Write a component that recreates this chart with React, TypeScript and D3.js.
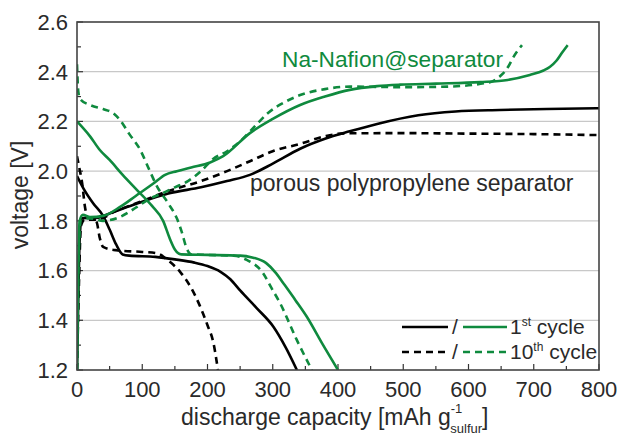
import React from "react";
import * as d3 from "d3";

const width = 618;
const height = 435;
const margin = { top: 22, right: 19, bottom: 65, left: 77 };
const green = "#0f8a3e";

// tick values
const xTicks = [0, 100, 200, 300, 400, 500, 600, 700, 800];
const yTicks = [1.2, 1.4, 1.6, 1.8, 2.0, 2.2, 2.4, 2.6];
const gridLines = [1.4, 1.6, 1.8, 2.0, 2.2, 2.4];

// [capacity, voltage] pairs
const ppDischarge1 = [[0, 1.98], [10, 1.93], [25, 1.87], [40, 1.82], [50, 1.765], [60, 1.705], [70, 1.665], [80, 1.66], [120, 1.655], [150, 1.645], [180, 1.632], [200, 1.618], [220, 1.595], [235, 1.565], [250, 1.52], [275, 1.45], [301, 1.374], [320, 1.29], [337, 1.2]];
const ppDischarge10 = [[0, 2.06], [3, 2.02], [8, 1.95], [12, 1.86], [16, 1.815], [25, 1.805], [30, 1.795], [35, 1.73], [40, 1.695], [60, 1.682], [100, 1.675], [122, 1.67], [140, 1.64], [158, 1.595], [175, 1.53], [188, 1.46], [200, 1.38], [209, 1.31], [216, 1.2]];
const ppCharge1 = [[0, 1.2], [2, 1.5], [4, 1.72], [7, 1.81], [15, 1.812], [30, 1.812], [50, 1.83], [92, 1.87], [140, 1.91], [190, 1.935], [230, 1.96], [265, 1.985], [300, 2.03], [342, 2.09], [380, 2.13], [418, 2.16], [460, 2.19], [523, 2.225], [580, 2.24], [648, 2.246], [720, 2.25], [800, 2.253]];
const ppCharge10 = [[0, 1.2], [3, 1.55], [6, 1.78], [12, 1.805], [30, 1.805], [60, 1.84], [100, 1.88], [140, 1.92], [190, 1.96], [230, 2.0], [265, 2.04], [300, 2.08], [342, 2.11], [380, 2.14], [410, 2.152], [500, 2.153], [600, 2.151], [700, 2.149], [800, 2.145]];
const nfDischarge1 = [[0, 2.2], [20, 2.14], [35, 2.085], [50, 2.045], [70, 1.985], [92, 1.924], [115, 1.86], [132, 1.8], [142, 1.73], [150, 1.685], [160, 1.665], [200, 1.663], [250, 1.66], [270, 1.652], [290, 1.63], [305, 1.59], [316, 1.55], [335, 1.48], [352, 1.415], [375, 1.31], [400, 1.2]];
const nfDischarge10 = [[0, 2.43], [2, 2.32], [5, 2.29], [20, 2.266], [40, 2.25], [55, 2.234], [66, 2.205], [80, 2.15], [97, 2.085], [110, 2.01], [123, 1.937], [140, 1.87], [153, 1.81], [160, 1.76], [168, 1.69], [175, 1.665], [200, 1.663], [240, 1.66], [260, 1.643], [285, 1.59], [298, 1.53], [311, 1.47], [337, 1.32], [360, 1.2]];
const nfCharge1 = [[0, 1.2], [2, 1.6], [4, 1.8], [9, 1.824], [20, 1.815], [40, 1.82], [66, 1.856], [90, 1.9], [117, 1.95], [135, 1.985], [153, 2.0], [175, 2.015], [204, 2.035], [224, 2.06], [265, 2.153], [300, 2.21], [342, 2.266], [380, 2.3], [418, 2.327], [460, 2.342], [495, 2.348], [550, 2.352], [618, 2.358], [660, 2.367], [694, 2.387], [715, 2.405], [725, 2.42], [735, 2.445], [743, 2.475], [752, 2.507]];
const nfCharge10 = [[0, 1.2], [3, 1.7], [6, 1.805], [20, 1.81], [40, 1.8], [66, 1.816], [92, 1.856], [112, 1.89], [132, 1.912], [150, 1.935], [170, 1.96], [190, 2.0], [209, 2.05], [230, 2.08], [250, 2.12], [276, 2.19], [291, 2.23], [320, 2.28], [342, 2.306], [380, 2.33], [418, 2.34], [500, 2.338], [567, 2.34], [633, 2.358], [645, 2.375], [653, 2.393], [662, 2.425], [668, 2.455], [682, 2.507]];

const series = [
  { data: ppDischarge1, color: "#000", dashed: false },
  { data: ppDischarge10, color: "#000", dashed: true },
  { data: ppCharge1, color: "#000", dashed: false },
  { data: ppCharge10, color: "#000", dashed: true },
  { data: nfDischarge1, color: green, dashed: false },
  { data: nfDischarge10, color: green, dashed: true },
  { data: nfCharge1, color: green, dashed: false },
  { data: nfCharge10, color: green, dashed: true },
];

const x = d3.scaleLinear().domain([0, 800]).range([margin.left, width - margin.right]);
const y = d3.scaleLinear().domain([1.2, 2.6]).range([height - margin.bottom, margin.top]);

const line = d3
  .line<number[]>()
  .x(d => x(d[0]))
  .y(d => y(d[1]))
  .curve(d3.curveMonotoneX);

const font = "'Liberation Sans', Arial, sans-serif";
const textColor = "#2a2a2a";

export default function App() {
  const x0 = x(0), x1 = x(800), y0 = y(1.2), y1 = y(2.6);
  const xMinor = d3.range(0, 801, 50);
  const yMinor = d3.range(12, 27, 1).map(v => v / 10);
  return (
    <svg width={width} height={height} style={{ position: "absolute", left: 0, top: 0, background: "#fff" }} fontFamily={font}>
      <defs>
        <clipPath id="plot">
          <rect x={x0} y={y1} width={x1 - x0} height={y0 - y1} />
        </clipPath>
      </defs>

      {gridLines.map(v => (
        <line key={v} x1={x0} x2={x1} y1={y(v)} y2={y(v)} stroke="#c8c8c8" strokeWidth={1.2} />
      ))}

      {/* ticks */}
      {xMinor.map(v => (
        <line key={"xt" + v} x1={x(v)} x2={x(v)} y1={y0} y2={y0 - (v % 100 === 0 ? 6 : 4)} stroke="#333" strokeWidth={1.2} />
      ))}
      {yMinor.map(v => (
        <line key={"yt" + v} x1={x0} x2={x0 + (Math.round(v * 10) % 2 === 0 ? 6 : 4)} y1={y(v)} y2={y(v)} stroke="#333" strokeWidth={1.2} />
      ))}

      <g clipPath="url(#plot)">
        {series.map((s, i) => (
          <path key={i} d={line(s.data) || ""} fill="none" stroke={s.color} strokeWidth={2.6}
            strokeDasharray={s.dashed ? "7,5" : undefined} />
        ))}
      </g>

      <rect x={x0} y={y1} width={x1 - x0} height={y0 - y1} fill="none" stroke="#444" strokeWidth={1.6} />

      {xTicks.map(v => (
        <text key={"xl" + v} x={x(v)} y={397} textAnchor="middle" fontSize={22} fill={textColor}>{v}</text>
      ))}
      {yTicks.map(v => (
        <text key={"yl" + v} x={68} y={y(v)} dy="0.36em" textAnchor="end" fontSize={22} fill={textColor}>{v.toFixed(1)}</text>
      ))}

      <text transform="translate(28,195) rotate(-90)" textAnchor="middle" fontSize={23} fill={textColor}>voltage [V]</text>

      <text x={181} y={425} fontSize={23} fill={textColor}>
        discharge capacity [mAh g
        <tspan fontSize={13} dy={-12}>-1</tspan>
        <tspan fontSize={13} dx={-12} dy={20}>sulfur</tspan>
        <tspan fontSize={23} dy={-8}>]</tspan>
      </text>

      <text x={282} y={67} fontSize={22.7} fill={green}>Na-Nafion@separator</text>
      <text x={250} y={191} fontSize={23} fill={textColor}>porous polypropylene separator</text>

      {/* legend */}
      <g fontSize={21} fill={textColor}>
        <line x1={402} x2={448} y1={327} y2={327} stroke="#000" strokeWidth={2.6} />
        <text x={452} y={334}>/</text>
        <line x1={463} x2={507} y1={327} y2={327} stroke={green} strokeWidth={2.6} />
        <text x={510} y={334}>1<tspan fontSize={12} dy={-8}>st</tspan><tspan dy={8}> cycle</tspan></text>

        <line x1={402} x2={448} y1={352} y2={352} stroke="#000" strokeWidth={2.6} strokeDasharray="7,5" />
        <text x={452} y={359}>/</text>
        <line x1={463} x2={507} y1={352} y2={352} stroke={green} strokeWidth={2.6} strokeDasharray="7,5" />
        <text x={510} y={359}>10<tspan fontSize={12} dy={-8}>th</tspan><tspan dy={8}> cycle</tspan></text>
      </g>
    </svg>
  );
}
